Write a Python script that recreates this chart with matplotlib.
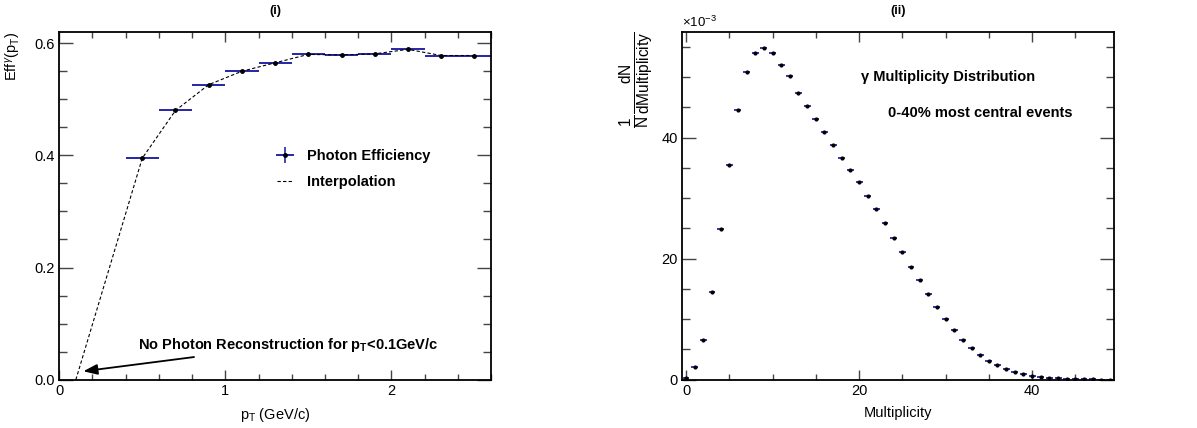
import matplotlib
matplotlib.use("Agg")
import matplotlib.pyplot as plt
from matplotlib.lines import Line2D
from matplotlib.legend_handler import HandlerTuple
from matplotlib.ticker import MultipleLocator

plt.rcParams['font.family'] = ['Liberation Sans', 'DejaVu Sans']
plt.rcParams['mathtext.fontset'] = 'custom'
plt.rcParams['mathtext.rm'] = 'Liberation Sans'
plt.rcParams['mathtext.it'] = 'Liberation Sans:italic'
plt.rcParams['mathtext.bf'] = 'Liberation Sans:bold'

# photon efficiency vs pT (bin centres, half widths)
pt_centres = [0.5, 0.7, 0.9, 1.1, 1.3, 1.5, 1.7, 1.9, 2.1, 2.3, 2.5]
pt_halfwidth = [0.1] * 11
efficiency = [0.395, 0.480, 0.526, 0.550, 0.565, 0.580, 0.579, 0.581, 0.589, 0.578, 0.578]
pt_threshold = 0.1

# gamma multiplicity distribution, in units of 1e-3
multiplicity = list(range(50))
mult_density = [0.3, 2.1, 6.6, 14.55, 24.9, 35.5, 44.6, 50.8, 53.95, 54.8,
                53.95, 52.0, 50.1, 47.4, 45.3, 43.0, 40.9, 38.7, 36.7, 34.7,
                32.7, 30.4, 28.2, 25.95, 23.4, 21.1, 18.7, 16.4, 14.1, 11.95,
                9.98, 8.2, 6.6, 5.24, 4.13, 3.14, 2.38, 1.77, 1.27, 0.88,
                0.61, 0.45, 0.28, 0.2, 0.13, 0.08, 0.05, 0.03, 0.02, 0.01]

BAR = '#2626a8'

fig = plt.figure(figsize=(11.97, 4.28), dpi=100)
ax1 = fig.add_axes([0.0495, 0.1129, 0.3607, 0.8124])
ax2 = fig.add_axes([0.5695, 0.1129, 0.3614, 0.8131])


def root_style(ax):
    for sp in ax.spines.values():
        sp.set_linewidth(1.3)
    ax.tick_params(which='both', direction='in', top=True, right=True,
                   labelsize=10.5, color='#444444', width=1.0, pad=3)
    ax.tick_params(axis='y', which='major', length=10)
    ax.tick_params(axis='y', which='minor', length=6)
    ax.tick_params(axis='x', which='major', length=7)
    ax.tick_params(axis='x', which='minor', length=4)


# (i) efficiency
root_style(ax1)
ax1.errorbar(pt_centres, efficiency, xerr=pt_halfwidth, fmt='o', ms=2.5,
             color='black', ecolor=BAR, elinewidth=1.4, capsize=0)
interp_x = [pt_threshold] + pt_centres
interp_y = [0.0] + efficiency
ax1.plot(interp_x, interp_y, ls='--', color='black', lw=0.8, dashes=(3, 2))
ax1.set_xlim(0, 2.6)
ax1.set_ylim(0, 0.62)
ax1.xaxis.set_major_locator(MultipleLocator(1))
ax1.xaxis.set_minor_locator(MultipleLocator(0.2))
ax1.yaxis.set_major_locator(MultipleLocator(0.2))
ax1.yaxis.set_minor_locator(MultipleLocator(0.05))
ax1.yaxis.set_major_formatter(lambda v, p: f'{v:.1f}')
ax1.set_xlabel(r'p$_\mathrm{T}$ (GeV/c)', fontsize=10.5)
ax1.xaxis.set_label_coords(0.5, -0.075)
ax1.set_ylabel(r'Eff$^{\gamma}$(p$_\mathrm{T}$)', fontsize=10.5, loc='top')
ax1.yaxis.set_label_coords(-0.085, 1.0)
ax1.set_title('(i)', fontsize=9, fontweight='bold', pad=13)

# legend symbol: marker with horizontal and vertical error bars
eff_handle = (Line2D([0], [0], color=BAR, lw=1.4),
              Line2D([0], [0], color=BAR, marker='|', ms=11, mew=1.2, ls='none'),
              Line2D([0], [0], marker='o', ms=2.5, color='black', ls='none'))
interp_handle = Line2D([0], [0], color='black', ls='--', lw=0.8, dashes=(3, 2))
ax1.legend([eff_handle, interp_handle], ['Photon Efficiency', 'Interpolation'],
           handler_map={tuple: HandlerTuple(ndivide=1, pad=0)},
           loc='upper left', bbox_to_anchor=(0.475, 0.702), frameon=False,
           handlelength=1.05, handletextpad=1.0, labelspacing=0.85,
           prop={'weight': 'bold', 'size': 10.5})

ax1.annotate(r'No Photon Reconstruction for p$_\mathbf{T}$<0.1GeV/c',
             xy=(0.145, 0.015), xytext=(0.475, 0.062),
             fontsize=10.5, fontweight='bold', va='center', ha='left',
             arrowprops=dict(arrowstyle='-|>,head_length=0.8,head_width=0.3',
                             color='black', lw=1.3, shrinkA=2, shrinkB=0))

# (ii) multiplicity
root_style(ax2)
ax2.errorbar(multiplicity, mult_density, xerr=0.4, fmt='o', ms=2.0,
             color='black', ecolor=BAR, elinewidth=1.3, capsize=0)
ax2.set_xlim(-0.5, 49.5)
ax2.set_ylim(0, 57.5)
ax2.xaxis.set_major_locator(MultipleLocator(20))
ax2.xaxis.set_minor_locator(MultipleLocator(5))
ax2.yaxis.set_major_locator(MultipleLocator(20))
ax2.yaxis.set_minor_locator(MultipleLocator(5))
ax2.set_xlabel('Multiplicity', fontsize=10.5)
ax2.xaxis.set_label_coords(0.5, -0.075)
ax2.set_ylabel(r'$\mathrm{\frac{1}{N}\frac{dN}{dMultiplicity}}$', fontsize=16, loc='top')
ax2.yaxis.set_label_coords(-0.062, 1.0)
ax2.set_title('(ii)', fontsize=9, fontweight='bold', pad=13)
ax2.text(0.0, 1.005, r'$\times$10$^{-3}$', transform=ax2.transAxes,
         fontsize=9.5, ha='left', va='bottom')
ax2.text(0.415, 0.87, 'γ Multiplicity Distribution', transform=ax2.transAxes,
         fontsize=10.5, fontweight='bold', ha='left', va='center')
ax2.text(0.478, 0.767, '0-40% most central events', transform=ax2.transAxes,
         fontsize=10.5, fontweight='bold', ha='left', va='center')

fig.savefig('out.png', dpi=100)
